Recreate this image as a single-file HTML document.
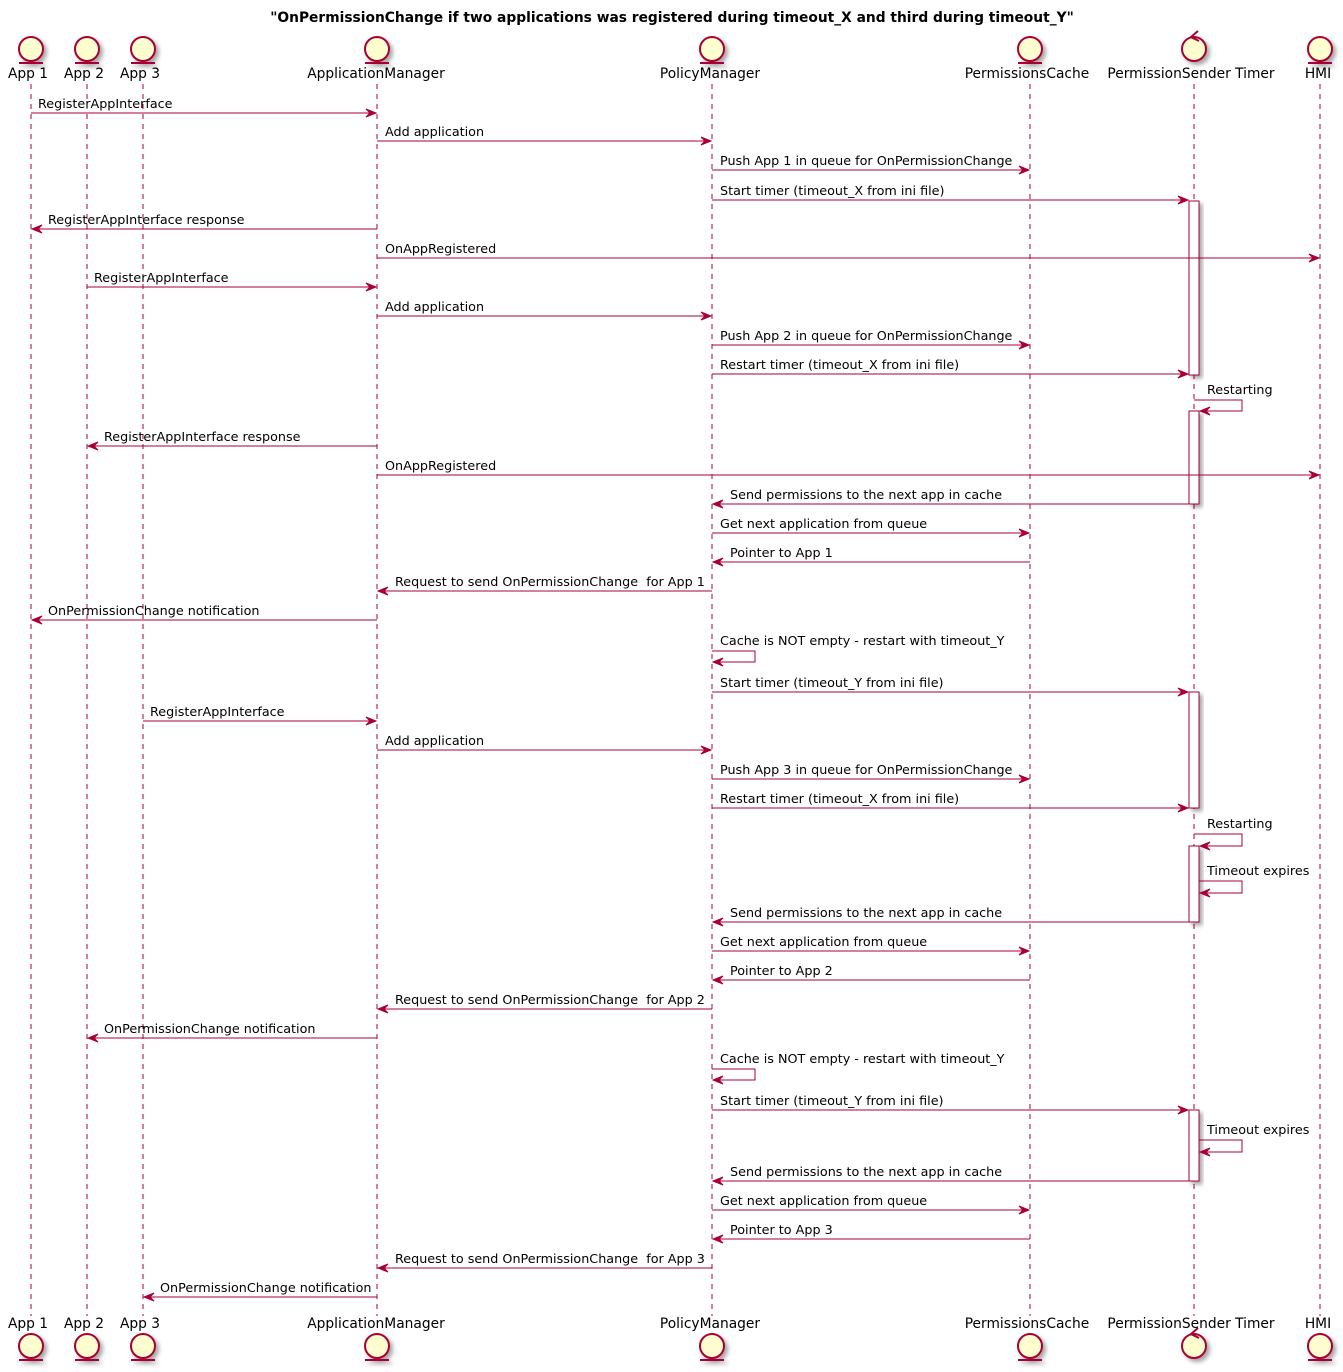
<!DOCTYPE html>
<html><head><meta charset="utf-8"><style>
html,body{margin:0;padding:0;background:#fff;}
svg{display:block;}
text{font-family:"DejaVu Sans","Liberation Sans",sans-serif;fill:#000;white-space:pre;}
.m{font-size:12.75px;}
.a{font-size:13.8px;}
</style></head><body>
<svg width="1343" height="1372" viewBox="0 0 1343 1372" xmlns="http://www.w3.org/2000/svg" xml:space="preserve">
<defs>
<filter id="sh" x="-50%" y="-50%" width="200%" height="200%"><feDropShadow dx="3" dy="3" stdDeviation="2" flood-color="#000" flood-opacity="0.35"/></filter>
</defs>
<text x="672" y="22" text-anchor="middle" font-weight="bold" style="font-size:13.8px">"OnPermissionChange if two applications was registered during timeout_X and third during timeout_Y"</text>

<g stroke="#A80036" stroke-width="1" stroke-dasharray="5,5">
<line x1="31" y1="84" x2="31" y2="1316"/>
<line x1="87" y1="84" x2="87" y2="1316"/>
<line x1="143" y1="84" x2="143" y2="1316"/>
<line x1="377" y1="84" x2="377" y2="1316"/>
<line x1="712" y1="84" x2="712" y2="1316"/>
<line x1="1030" y1="84" x2="1030" y2="1316"/>
<line x1="1194" y1="84" x2="1194" y2="1316"/>
<line x1="1320" y1="84" x2="1320" y2="1316"/>
</g>

<g fill="#FEFECE" stroke="#A80036" stroke-width="2" filter="url(#sh)">
<circle cx="31" cy="49" r="12"/><line x1="19" y1="63" x2="43" y2="63"/>
<circle cx="87" cy="49" r="12"/><line x1="75" y1="63" x2="99" y2="63"/>
<circle cx="143" cy="49" r="12"/><line x1="131" y1="63" x2="155" y2="63"/>
<circle cx="377" cy="49" r="12"/><line x1="365" y1="63" x2="389" y2="63"/>
<circle cx="712" cy="49" r="12"/><line x1="700" y1="63" x2="724" y2="63"/>
<circle cx="1030" cy="49" r="12"/><line x1="1018" y1="63" x2="1042" y2="63"/>
<circle cx="1194" cy="49" r="12"/>
<circle cx="1320" cy="49" r="12"/><line x1="1308" y1="63" x2="1332" y2="63"/>
<circle cx="31" cy="1346" r="12"/><line x1="19" y1="1360" x2="43" y2="1360"/>
<circle cx="87" cy="1346" r="12"/><line x1="75" y1="1360" x2="99" y2="1360"/>
<circle cx="143" cy="1346" r="12"/><line x1="131" y1="1360" x2="155" y2="1360"/>
<circle cx="377" cy="1346" r="12"/><line x1="365" y1="1360" x2="389" y2="1360"/>
<circle cx="712" cy="1346" r="12"/><line x1="700" y1="1360" x2="724" y2="1360"/>
<circle cx="1030" cy="1346" r="12"/><line x1="1018" y1="1360" x2="1042" y2="1360"/>
<circle cx="1194" cy="1346" r="12"/>
<circle cx="1320" cy="1346" r="12"/><line x1="1308" y1="1360" x2="1332" y2="1360"/>
</g>
<g fill="none" stroke="#A80036" stroke-width="2">
<polyline points="1198,31 1191,37 1199,41"/>
<polyline points="1198,1328 1191,1334 1199,1338"/>
</g>
<g class="a" text-anchor="middle">
<text x="28" y="78">App 1</text><text x="84" y="78">App 2</text><text x="140" y="78">App 3</text>
<text x="376" y="78">ApplicationManager</text><text x="710" y="78">PolicyManager</text>
<text x="1027" y="78">PermissionsCache</text><text x="1191" y="78">PermissionSender Timer</text><text x="1318" y="78">HMI</text>
<text x="28" y="1328">App 1</text><text x="84" y="1328">App 2</text><text x="140" y="1328">App 3</text>
<text x="376" y="1328">ApplicationManager</text><text x="710" y="1328">PolicyManager</text>
<text x="1027" y="1328">PermissionsCache</text><text x="1191" y="1328">PermissionSender Timer</text><text x="1318" y="1328">HMI</text>
</g>

<g fill="#fff" stroke="#A80036" stroke-width="1" filter="url(#sh)">
<rect x="1189" y="201" width="10" height="174"/>
<rect x="1189" y="411" width="10" height="93"/>
<rect x="1189" y="692" width="10" height="116"/>
<rect x="1189" y="846" width="10" height="76"/>
<rect x="1189" y="1110" width="10" height="71"/>
</g>

<g stroke="#A80036" stroke-width="1" fill="none">
<line x1="31" y1="113" x2="376" y2="113"/>
<line x1="377" y1="141" x2="711" y2="141"/>
<line x1="712" y1="170" x2="1029" y2="170"/>
<line x1="712" y1="200" x2="1188" y2="200"/>
<line x1="32" y1="229" x2="377" y2="229"/>
<line x1="377" y1="258" x2="1319" y2="258"/>
<line x1="87" y1="287" x2="376" y2="287"/>
<line x1="377" y1="316" x2="711" y2="316"/>
<line x1="712" y1="345" x2="1029" y2="345"/>
<line x1="712" y1="374" x2="1188" y2="374"/>
<polyline points="1194,400 1242,400 1242,411 1200,411"/>
<line x1="88" y1="446" x2="377" y2="446"/>
<line x1="377" y1="475" x2="1319" y2="475"/>
<line x1="713" y1="504" x2="1189" y2="504"/>
<line x1="712" y1="533" x2="1029" y2="533"/>
<line x1="713" y1="562" x2="1030" y2="562"/>
<line x1="378" y1="591" x2="712" y2="591"/>
<line x1="32" y1="620" x2="377" y2="620"/>
<polyline points="712,651 755,651 755,662 713,662"/>
<line x1="712" y1="692" x2="1188" y2="692"/>
<line x1="143" y1="721" x2="376" y2="721"/>
<line x1="377" y1="750" x2="711" y2="750"/>
<line x1="712" y1="779" x2="1029" y2="779"/>
<line x1="712" y1="808" x2="1188" y2="808"/>
<polyline points="1194,834 1242,834 1242,846 1200,846"/>
<polyline points="1199,881 1242,881 1242,893 1200,893"/>
<line x1="713" y1="922" x2="1189" y2="922"/>
<line x1="712" y1="951" x2="1029" y2="951"/>
<line x1="713" y1="980" x2="1030" y2="980"/>
<line x1="378" y1="1009" x2="712" y2="1009"/>
<line x1="88" y1="1038" x2="377" y2="1038"/>
<polyline points="712,1069 755,1069 755,1080 713,1080"/>
<line x1="712" y1="1110" x2="1188" y2="1110"/>
<polyline points="1199,1140 1242,1140 1242,1152 1200,1152"/>
<line x1="713" y1="1181" x2="1189" y2="1181"/>
<line x1="712" y1="1210" x2="1029" y2="1210"/>
<line x1="713" y1="1239" x2="1030" y2="1239"/>
<line x1="378" y1="1268" x2="712" y2="1268"/>
<line x1="144" y1="1297" x2="377" y2="1297"/>
</g>

<g fill="#A80036" stroke="#A80036" stroke-width="1">
<polygon points="366,109 376,113 366,117 370,113"/>
<polygon points="701,137 711,141 701,145 705,141"/>
<polygon points="1019,166 1029,170 1019,174 1023,170"/>
<polygon points="1178,196 1188,200 1178,204 1182,200"/>
<polygon points="1309,254 1319,258 1309,262 1313,258"/>
<polygon points="366,283 376,287 366,291 370,287"/>
<polygon points="701,312 711,316 701,320 705,316"/>
<polygon points="1019,341 1029,345 1019,349 1023,345"/>
<polygon points="1178,370 1188,374 1178,378 1182,374"/>
<polygon points="1309,471 1319,475 1309,479 1313,475"/>
<polygon points="1019,529 1029,533 1019,537 1023,533"/>
<polygon points="1178,688 1188,692 1178,696 1182,692"/>
<polygon points="366,717 376,721 366,725 370,721"/>
<polygon points="701,746 711,750 701,754 705,750"/>
<polygon points="1019,775 1029,779 1019,783 1023,779"/>
<polygon points="1178,804 1188,808 1178,812 1182,808"/>
<polygon points="1019,947 1029,951 1019,955 1023,951"/>
<polygon points="1178,1106 1188,1110 1178,1114 1182,1110"/>
<polygon points="1019,1206 1029,1210 1019,1214 1023,1210"/>
<polygon points="42,225 32,229 42,233 38,229"/>
<polygon points="1210,407 1200,411 1210,415 1206,411"/>
<polygon points="98,442 88,446 98,450 94,446"/>
<polygon points="723,500 713,504 723,508 719,504"/>
<polygon points="723,558 713,562 723,566 719,562"/>
<polygon points="388,587 378,591 388,595 384,591"/>
<polygon points="42,616 32,620 42,624 38,620"/>
<polygon points="723,658 713,662 723,666 719,662"/>
<polygon points="1210,842 1200,846 1210,850 1206,846"/>
<polygon points="1210,889 1200,893 1210,897 1206,893"/>
<polygon points="723,918 713,922 723,926 719,922"/>
<polygon points="723,976 713,980 723,984 719,980"/>
<polygon points="388,1005 378,1009 388,1013 384,1009"/>
<polygon points="98,1034 88,1038 98,1042 94,1038"/>
<polygon points="723,1076 713,1080 723,1084 719,1080"/>
<polygon points="1210,1148 1200,1152 1210,1156 1206,1152"/>
<polygon points="723,1177 713,1181 723,1185 719,1181"/>
<polygon points="723,1235 713,1239 723,1243 719,1239"/>
<polygon points="388,1264 378,1268 388,1272 384,1268"/>
<polygon points="154,1293 144,1297 154,1301 150,1297"/>
</g>

<g class="m">
<text x="38" y="108">RegisterAppInterface</text>
<text x="385" y="136">Add application</text>
<text x="720" y="165">Push App 1 in queue for OnPermissionChange</text>
<text x="720" y="195">Start timer (timeout_X from ini file)</text>
<text x="48" y="224">RegisterAppInterface response</text>
<text x="385" y="253">OnAppRegistered</text>
<text x="94" y="282">RegisterAppInterface</text>
<text x="385" y="311">Add application</text>
<text x="720" y="340">Push App 2 in queue for OnPermissionChange</text>
<text x="720" y="369">Restart timer (timeout_X from ini file)</text>
<text x="1207" y="394">Restarting</text>
<text x="104" y="441">RegisterAppInterface response</text>
<text x="385" y="470">OnAppRegistered</text>
<text x="730" y="499">Send permissions to the next app in cache</text>
<text x="720" y="528">Get next application from queue</text>
<text x="730" y="557">Pointer to App 1</text>
<text x="395" y="586">Request to send OnPermissionChange  for App 1</text>
<text x="48" y="615">OnPermissionChange notification</text>
<text x="720" y="645">Cache is NOT empty - restart with timeout_Y</text>
<text x="720" y="687">Start timer (timeout_Y from ini file)</text>
<text x="150" y="716">RegisterAppInterface</text>
<text x="385" y="745">Add application</text>
<text x="720" y="774">Push App 3 in queue for OnPermissionChange</text>
<text x="720" y="803">Restart timer (timeout_X from ini file)</text>
<text x="1207" y="828">Restarting</text>
<text x="1207" y="875">Timeout expires</text>
<text x="730" y="917">Send permissions to the next app in cache</text>
<text x="720" y="946">Get next application from queue</text>
<text x="730" y="975">Pointer to App 2</text>
<text x="395" y="1004">Request to send OnPermissionChange  for App 2</text>
<text x="104" y="1033">OnPermissionChange notification</text>
<text x="720" y="1063">Cache is NOT empty - restart with timeout_Y</text>
<text x="720" y="1105">Start timer (timeout_Y from ini file)</text>
<text x="1207" y="1134">Timeout expires</text>
<text x="730" y="1176">Send permissions to the next app in cache</text>
<text x="720" y="1205">Get next application from queue</text>
<text x="730" y="1234">Pointer to App 3</text>
<text x="395" y="1263">Request to send OnPermissionChange  for App 3</text>
<text x="160" y="1292">OnPermissionChange notification</text>
</g>
</svg>
</body></html>
